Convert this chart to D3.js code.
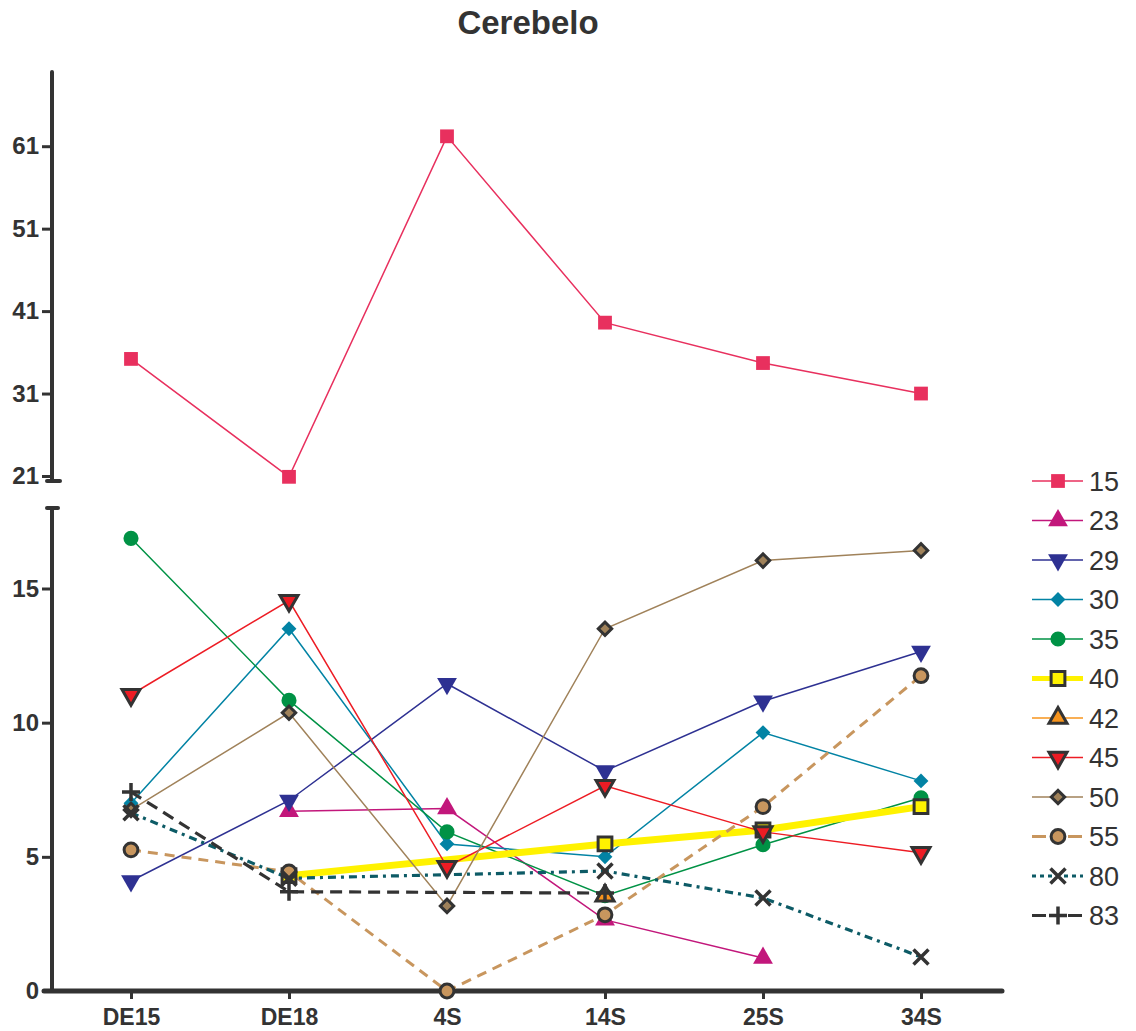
<!DOCTYPE html>
<html><head><meta charset="utf-8">
<script src="https://cdn.jsdelivr.net/npm/d3@7"></script>
<style>body{margin:0;background:#fff;} svg{display:block;font-family:"Liberation Sans",Arial,sans-serif;}</style>
</head><body><svg id="c" width="1136" height="1031"></svg>
<script>
const categories = ["DE15","DE18","4S","14S","25S","34S"];
const seriesNames = ["15","23","29","30","35","40","42","45","50","55","80","83"];
const s15 = [35.2, 20.9, 62.2, 39.6, 34.7, 31.0];
const s23 = [null, 6.7, 6.8, 2.65, 1.23, null];
const s29 = [4.1, 7.1, 11.45, 8.2, 10.8, 12.65];
const s30 = [7.0, 13.5, 5.48, 5.0, 9.63, 7.83];
const s35 = [16.87, 10.83, 5.93, 3.55, 5.45, 7.2];
const s40 = [null, 4.3, null, 5.48, 6.0, 6.87];
const s42 = [null, null, null, 3.55, null, null];
const s45 = [11.04, 14.55, 4.63, 7.65, 5.93, 5.15];
const s50 = [6.75, 10.37, 3.17, 13.5, 16.04, 16.42];
const s55 = [5.26, 4.44, 0, 2.84, 6.87, 11.75];
const s80 = [6.64, 4.2, null, 4.47, 3.47, 1.27];
const s83 = [7.42, 3.7, null, 3.65, null, null];
const upperTicks = [21, 31, 41, 51, 61];
const lowerTicks = [0, 5, 10, 15];

const series = [
  {name:"15", values:s15, color:"#E8305E", width:1.5, dash:null, marker:"square", fill:"#E8305E", stroke:null, size:190},
  {name:"23", values:s23, color:"#C2177B", width:1.5, dash:null, marker:"triangle", fill:"#C2177B", stroke:null, size:170},
  {name:"29", values:s29, color:"#2E3192", width:1.5, dash:null, marker:"triangleDown", fill:"#2E3192", stroke:null, size:170},
  {name:"30", values:s30, color:"#0283A4", width:1.5, dash:null, marker:"diamond", fill:"#0283A4", stroke:null, size:110},
  {name:"35", values:s35, color:"#009245", width:1.5, dash:null, marker:"circle", fill:"#009245", stroke:null, size:180},
  {name:"40", values:s40, color:"#FFF200", width:7, dash:null, marker:"square", fill:"#FFF200", stroke:"#333", size:190},
  {name:"42", values:s42, color:"#F7941D", width:1.5, dash:null, marker:"triangle", fill:"#F7941D", stroke:"#333", size:140},
  {name:"45", values:s45, color:"#ED1C24", width:1.5, dash:null, marker:"triangleDown", fill:"#ED1C24", stroke:"#333", size:140},
  {name:"50", values:s50, color:"#A0825A", width:1.5, dash:null, marker:"diamond", fill:"#A0825A", stroke:"#333", size:90},
  {name:"55", values:s55, color:"#C8965E", width:3, dash:"10,7", marker:"circle", fill:"#C8965E", stroke:"#333", size:150},
  {name:"80", values:s80, color:"#0D5B66", width:3.2, dash:"8,5,3,5", marker:"x", fill:"none", stroke:"#333", size:150},
  {name:"83", values:s83, color:"#333333", width:3.2, dash:"12,7", marker:"plus", fill:"none", stroke:"#333", size:150}
];

const svg = d3.select("#c");
const x = d3.scalePoint().domain(categories).range([52, 1000]).padding(0.5);
const yLow = d3.scaleLinear().domain([0, 18]).range([991, 508]);
const yUp = d3.scaleLinear().domain([21, 70]).range([476, 72]);
const yv = v => v >= 20 ? yUp(v) : yLow(v);

svg.append("text").attr("x", 528).attr("y", 34).attr("text-anchor","middle")
  .attr("font-size", 33).attr("font-weight","bold").attr("fill","#333").text("Cerebelo");

const axisColor = "#333";
const gUp = svg.append("g").attr("transform","translate(52,0)")
  .call(d3.axisLeft(yUp).tickValues(upperTicks).tickSize(10).tickSizeOuter(0).tickPadding(3));
gUp.select(".domain").remove();
gUp.append("line").attr("x1",0).attr("x2",0).attr("y1",72).attr("y2",481).attr("stroke",axisColor).attr("stroke-width",4).attr("stroke-linecap","round");
gUp.append("line").attr("x1",-5).attr("x2",8).attr("y1",481).attr("y2",481).attr("stroke",axisColor).attr("stroke-width",4).attr("stroke-linecap","round");
const gLow = svg.append("g").attr("transform","translate(52,0)")
  .call(d3.axisLeft(yLow).tickValues(lowerTicks).tickSize(10).tickSizeOuter(0).tickPadding(3));
gLow.select(".domain").remove();
gLow.append("line").attr("x1",0).attr("x2",0).attr("y1",508).attr("y2",991).attr("stroke",axisColor).attr("stroke-width",4);
gLow.append("line").attr("x1",-5).attr("x2",6).attr("y1",508).attr("y2",508).attr("stroke",axisColor).attr("stroke-width",4).attr("stroke-linecap","round");
[gUp, gLow].forEach(g => {
  g.selectAll(".tick line").attr("stroke",axisColor).attr("stroke-width",3);
  g.selectAll(".tick text").attr("fill",axisColor).attr("font-size",24).attr("font-weight","bold")
    .attr("font-family","'Liberation Sans',Arial,sans-serif");
});
const gx = svg.append("g").attr("transform","translate(0,991)")
  .call(d3.axisBottom(x).tickSize(8).tickSizeOuter(0).tickPadding(9));
gx.select(".domain").remove();
gx.append("line").attr("x1",44).attr("x2",1002).attr("y1",0).attr("y2",0).attr("stroke",axisColor).attr("stroke-width",5).attr("stroke-linecap","round");
gx.selectAll(".tick line").attr("stroke",axisColor).attr("stroke-width",3);
gx.selectAll(".tick text").attr("fill",axisColor).attr("font-size",23).attr("font-weight","bold")
  .attr("font-family","'Liberation Sans',Arial,sans-serif").attr("dy","0.72em");

function symbolPath(m, size){
  const map = {square:d3.symbolSquare, triangle:d3.symbolTriangle, circle:d3.symbolCircle, diamond:d3.symbolSquare, triangleDown:d3.symbolTriangle};
  if (m === "plus") { const r = 9; return `M${-r},0L${r},0M0,${-r}L0,${r}`; }
  if (m === "x") { const r = 7.5; return `M${-r},${-r}L${r},${r}M${-r},${r}L${r},${-r}`; }
  return d3.symbol(map[m], size)();
}
function markerTransform(m){
  if (m === "triangleDown") return " rotate(180)";
  if (m === "diamond") return " rotate(45)";
  return "";
}
function drawMarker(g, s, cx, cy){
  const isLineMark = s.marker === "x" || s.marker === "plus";
  const p = g.append("path").attr("d", symbolPath(s.marker, s.size))
    .attr("transform", `translate(${cx},${cy})` + markerTransform(s.marker));
  if (isLineMark) p.attr("fill","none").attr("stroke", s.stroke).attr("stroke-width",3.5);
  else p.attr("fill", s.fill).attr("stroke", s.stroke || "none").attr("stroke-width", s.stroke ? 3 : 0).attr("stroke-linejoin","miter");
}

const line = d3.line().x(d => x(d.c)).y(d => yv(d.v));
const plot = svg.append("g");
series.forEach(s => {
  const pts = s.values.map((v,i)=>({c:categories[i], v})).filter(d => d.v !== null);
  if (pts.length > 1) {
    plot.append("path").attr("d", line(pts)).attr("fill","none").attr("stroke", s.color)
      .attr("stroke-width", s.width).attr("stroke-dasharray", s.dash);
  }
});
series.forEach(s => {
  const g = plot.append("g");
  s.values.forEach((v,i) => { if (v !== null) drawMarker(g, s, x(categories[i]), yv(v)); });
});

const leg = svg.append("g");
series.forEach((s,i) => {
  const cy = 481 + i*39.5;
  const g = leg.append("g");
  g.append("line").attr("x1",1032).attr("x2",1083).attr("y1",cy).attr("y2",cy)
    .attr("stroke", s.color).attr("stroke-width", Math.min(s.width, 5)).attr("stroke-dasharray", s.dash ? (s.name==="80"?"4,4":"14,4") : null);
  drawMarker(g, s, 1058, cy);
  g.append("text").attr("x",1089).attr("y",cy).attr("dy","0.36em").attr("font-size",27)
    .attr("fill","#333").text(s.name);
});
</script></body></html>
